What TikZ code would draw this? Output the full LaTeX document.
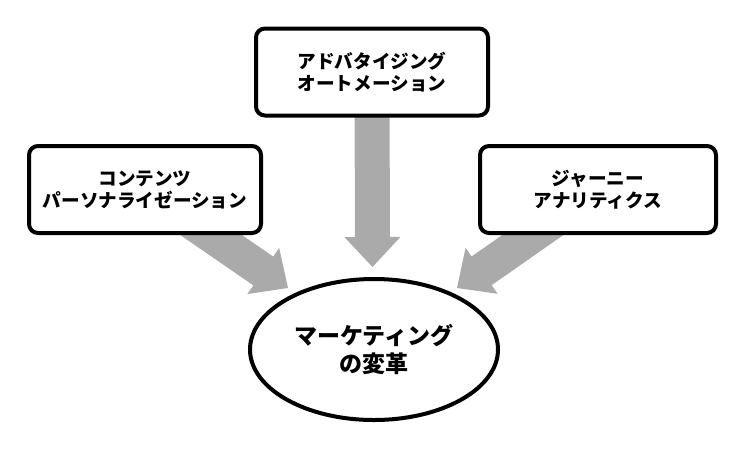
\documentclass[tikz,border=0pt]{standalone}
\usepackage{fontspec}
\newfontfamily\jp{Noto Sans CJK JP}
\usetikzlibrary{calc,backgrounds,shapes.geometric}
\definecolor{arrowgray}{RGB}{170,170,170}
\newcommand\myblockarrow[2]{%
  \coordinate (hb) at ($(#2)!30pt!(#1)$);
  \fill[flow] ($(#1)!17.5pt!90:(#2)$) -- ($(hb)!17.5pt!90:(#2)$) -- ($(hb)!28pt!90:(#2)$) -- (#2)
     -- ($(hb)!28pt!-90:(#2)$) -- ($(hb)!17.5pt!-90:(#2)$) -- ($(#1)!17.5pt!-90:(#2)$) -- cycle;}
\begin{document}
\begin{tikzpicture}[x=1pt,y=-1pt,
  box/.style={draw=black, line width=4pt, rounded corners=9pt, fill=white,
    minimum width=232pt, minimum height=87pt, inner sep=0pt, align=center,
    font=\jp\bfseries\fontsize{18.6pt}{22pt}\selectfont},
  goal/.style={ellipse, draw=black, line width=4pt, fill=white,
    minimum width=248pt, minimum height=141pt, inner sep=0pt, align=center,
    font=\jp\bfseries\fontsize{23pt}{28pt}\selectfont},
  flow/.style={fill=arrowgray, draw=none}]
\useasboundingbox (0,0) rectangle (744,448);
\node[box] (ad) at (372,72) {アドバタイジング\\オートメーション};
\node[box] (cp) at (145,189.5) {コンテンツ\\パーソナライゼーション};
\node[box, minimum width=236pt] (ja) at (598,189.5) {ジャーニー\\アナリティクス};
\node[goal] (mk) at (374,349.5) {マーケティング\\の変革};
\coordinate (tipL) at (288,288);
\coordinate (tipM) at (372.5,267);
\coordinate (tipR) at (457,288);
\begin{pgfonlayer}{background}
\fill[white] (0,0) rectangle (744,448);
\myblockarrow{cp.center}{tipL}
\myblockarrow{ad.center}{tipM}
\myblockarrow{ja.center}{tipR}
\end{pgfonlayer}
\end{tikzpicture}
\end{document}
